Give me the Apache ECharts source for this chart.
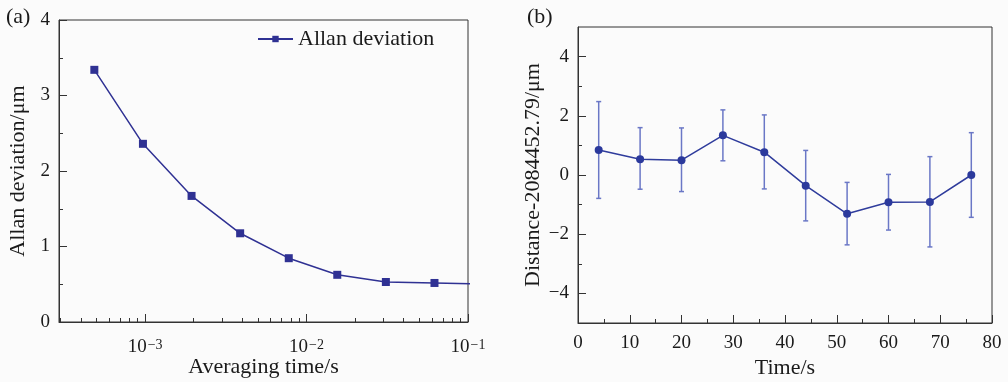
<!DOCTYPE html>
<html><head><meta charset="utf-8">
<script src="https://cdn.jsdelivr.net/npm/echarts@6/dist/echarts.min.js"></script>
<style>html,body{margin:0;padding:0;background:#fbfbfb}#c{width:1008px;height:382px}</style>
</head><body><div id="c"></div>
<script>
// Panel (a): Allan deviation
const tauValues = [0.000485, 0.00097, 0.00194, 0.00388, 0.00776, 0.0155, 0.031, 0.062, 0.124];
const allanValues = [3.34, 2.36, 1.67, 1.175, 0.845, 0.625, 0.53, 0.517, 0.505];
const logMajorTicks = [0.001, 0.01, 0.1];
const logMinorTicks = [0.0003,0.0004,0.0005,0.0006,0.0007,0.0008,0.0009,
  0.002,0.003,0.004,0.005,0.006,0.007,0.008,0.009,
  0.02,0.03,0.04,0.05,0.06,0.07,0.08,0.09];
const allanMinorTicks = [0.5, 1.5, 2.5, 3.5];
// Panel (b): distance vs time
const timeValues = [4, 12, 20, 28, 36, 44, 52, 60, 68, 76];
const distValues = [0.845, 0.53, 0.50, 1.34, 0.77, -0.36, -1.31, -0.92, -0.91, 0.00];
const errLow  = [-0.79, -0.48, -0.56, 0.48, -0.47, -1.55, -2.36, -1.86, -2.43, -1.43];
const errHigh = [2.48, 1.60, 1.59, 2.20, 2.03, 0.83, -0.25, 0.02, 0.62, 1.43];
const distMajorTicks = [-4, -2, 0, 2, 4];
const distMinorTicks = [-3, -1, 1, 3];
const timeMinorTicks = [5, 15, 25, 35, 45, 55, 65, 75];

const FONT = 'Liberation Serif';
const TXT = '#1a1a1a';
const AX = '#333';
const X_MIN = 0.000293, X_MAX = 0.1;
const fmtMinus = v => (v < 0 ? '\u2212' + Math.abs(v) : String(v));
const tickAxis = (gridIndex, position, min, max, vals, len) => ({
  type: 'value', gridIndex, position, min, max,
  axisLine: {show: false, onZero: false},
  axisTick: {show: true, inside: true, length: len, lineStyle: {color: AX}, customValues: vals},
  axisLabel: {show: false}, splitLine: {show: false}
});

const chart = echarts.init(document.getElementById('c'), null, {renderer: 'canvas'});
const option = {
  backgroundColor: '#fbfbfb',
  animation: false,
  textStyle: {fontFamily: FONT, color: TXT},
  graphic: [
    {type: 'text', left: 6, top: 6, style: {text: '(a)', font: '22px "Liberation Serif"', fill: TXT}},
    {type: 'text', left: 527, top: 6, style: {text: '(b)', font: '22px "Liberation Serif"', fill: TXT}}
  ],
  legend: {
    left: 252, top: 23, itemWidth: 35, itemHeight: 8, itemGap: 8,
    textStyle: {fontFamily: FONT, fontSize: 22, color: TXT},
    data: ['Allan deviation']
  },
  grid: [
    {left: 59, top: 20, width: 409, height: 302, outerBoundsMode: 'none', containLabel: false, show: true, borderColor: AX, borderWidth: 1, backgroundColor: 'transparent'},
    {left: 578, top: 27, width: 414, height: 296, outerBoundsMode: 'none', containLabel: false, show: true, borderColor: AX, borderWidth: 1, backgroundColor: 'transparent'}
  ],
  xAxis: [
    {
      type: 'log', gridIndex: 0, position: 'bottom', min: X_MIN, max: X_MAX, logBase: 10,
      name: 'Averaging time/s', nameLocation: 'middle', nameGap: 34, nameMoveOverlap: false,
      nameTextStyle: {fontFamily: FONT, fontSize: 22, color: TXT},
      axisLine: {show: true, onZero: false, lineStyle: {color: AX, width: 1}},
      axisTick: {show: false},
      axisLabel: {
        margin: 16, showMinLabel: false,
        formatter: v => '{b|10}{s|\u2212' + Math.round(-Math.log10(v)) + '}',
        rich: {b: {fontFamily: FONT, fontSize: 19, color: TXT}, s: {fontFamily: FONT, fontSize: 14, color: TXT, verticalAlign: 'top', padding: [0, 0, 0, 1]}}
      },
      splitLine: {show: false}
    },
    tickAxis(0, 'bottom', Math.log10(X_MIN), Math.log10(X_MAX), logMajorTicks.map(Math.log10), 8),
    {
      type: 'value', gridIndex: 1, position: 'bottom', min: 0, max: 80, interval: 10,
      name: 'Time/s', nameLocation: 'middle', nameGap: 34, nameMoveOverlap: false,
      nameTextStyle: {fontFamily: FONT, fontSize: 22, color: TXT},
      axisLine: {onZero: false, lineStyle: {color: AX}},
      axisTick: {inside: true, length: 8, lineStyle: {color: AX}},
      axisLabel: {margin: 11, fontFamily: FONT, fontSize: 19, color: TXT},
      splitLine: {show: false}
    },
    tickAxis(0, 'bottom', Math.log10(X_MIN), Math.log10(X_MAX), logMinorTicks.map(Math.log10), 4),
    tickAxis(1, 'bottom', 0, 80, timeMinorTicks, 4)
  ],
  yAxis: [
    {
      type: 'value', gridIndex: 0, position: 'left', min: 0, max: 4, interval: 1,
      name: 'Allan deviation/\u03bcm', nameLocation: 'middle', nameGap: 30,
      nameTextStyle: {fontFamily: FONT, fontSize: 22, color: TXT},
      axisLine: {show: true, onZero: false, lineStyle: {color: AX}},
      axisTick: {inside: true, length: 8, lineStyle: {color: AX}},
      axisLabel: {margin: 9, fontFamily: FONT, fontSize: 19, color: TXT},
      splitLine: {show: false}
    },
    {
      type: 'value', gridIndex: 1, position: 'left', min: -5, max: 5,
      name: 'Distance-2084452.79/\u03bcm', nameLocation: 'middle', nameGap: 34,
      nameTextStyle: {fontFamily: FONT, fontSize: 22, color: TXT},
      axisLine: {show: true, onZero: false, lineStyle: {color: AX}},
      axisTick: {inside: true, length: 8, lineStyle: {color: AX}, customValues: distMajorTicks},
      axisLabel: {margin: 9, fontFamily: FONT, fontSize: 19, color: TXT, customValues: distMajorTicks, formatter: fmtMinus},
      splitLine: {show: false}
    },
    tickAxis(1, 'left', -5, 5, distMinorTicks, 4),
    tickAxis(0, 'left', 0, 4, allanMinorTicks, 4)
  ],
  series: [
    {
      name: 'Allan deviation', type: 'line', xAxisIndex: 0, yAxisIndex: 0,
      data: tauValues.map((t, i) => [t, allanValues[i]]),
      symbol: 'rect', symbolSize: 8, clip: true,
      lineStyle: {color: '#2f3193', width: 1.5},
      itemStyle: {color: '#2f3193'}
    },
    {
      name: 'errors', type: 'custom', xAxisIndex: 2, yAxisIndex: 1,
      data: timeValues.map((t, i) => [t, errLow[i], errHigh[i]]),
      renderItem: (params, api) => {
        const lo = api.coord([api.value(0), api.value(1)]);
        const hi = api.coord([api.value(0), api.value(2)]);
        const w = 2.5;
        const st = {stroke: '#6a77c6', lineWidth: 1.5};
        return {type: 'group', children: [
          {type: 'line', shape: {x1: lo[0], y1: lo[1], x2: hi[0], y2: hi[1]}, style: st},
          {type: 'line', shape: {x1: lo[0] - w, y1: lo[1], x2: lo[0] + w, y2: lo[1]}, style: st},
          {type: 'line', shape: {x1: hi[0] - w, y1: hi[1], x2: hi[0] + w, y2: hi[1]}, style: st}
        ]};
      },
      z: 1
    },
    {
      name: 'distance', type: 'line', xAxisIndex: 2, yAxisIndex: 1,
      data: timeValues.map((t, i) => [t, distValues[i]]),
      symbol: 'circle', symbolSize: 8,
      lineStyle: {color: '#2f3c9c', width: 1.5},
      itemStyle: {color: '#2b399c'},
      z: 3
    }
  ]
};
chart.setOption(option);
</script></body></html>
